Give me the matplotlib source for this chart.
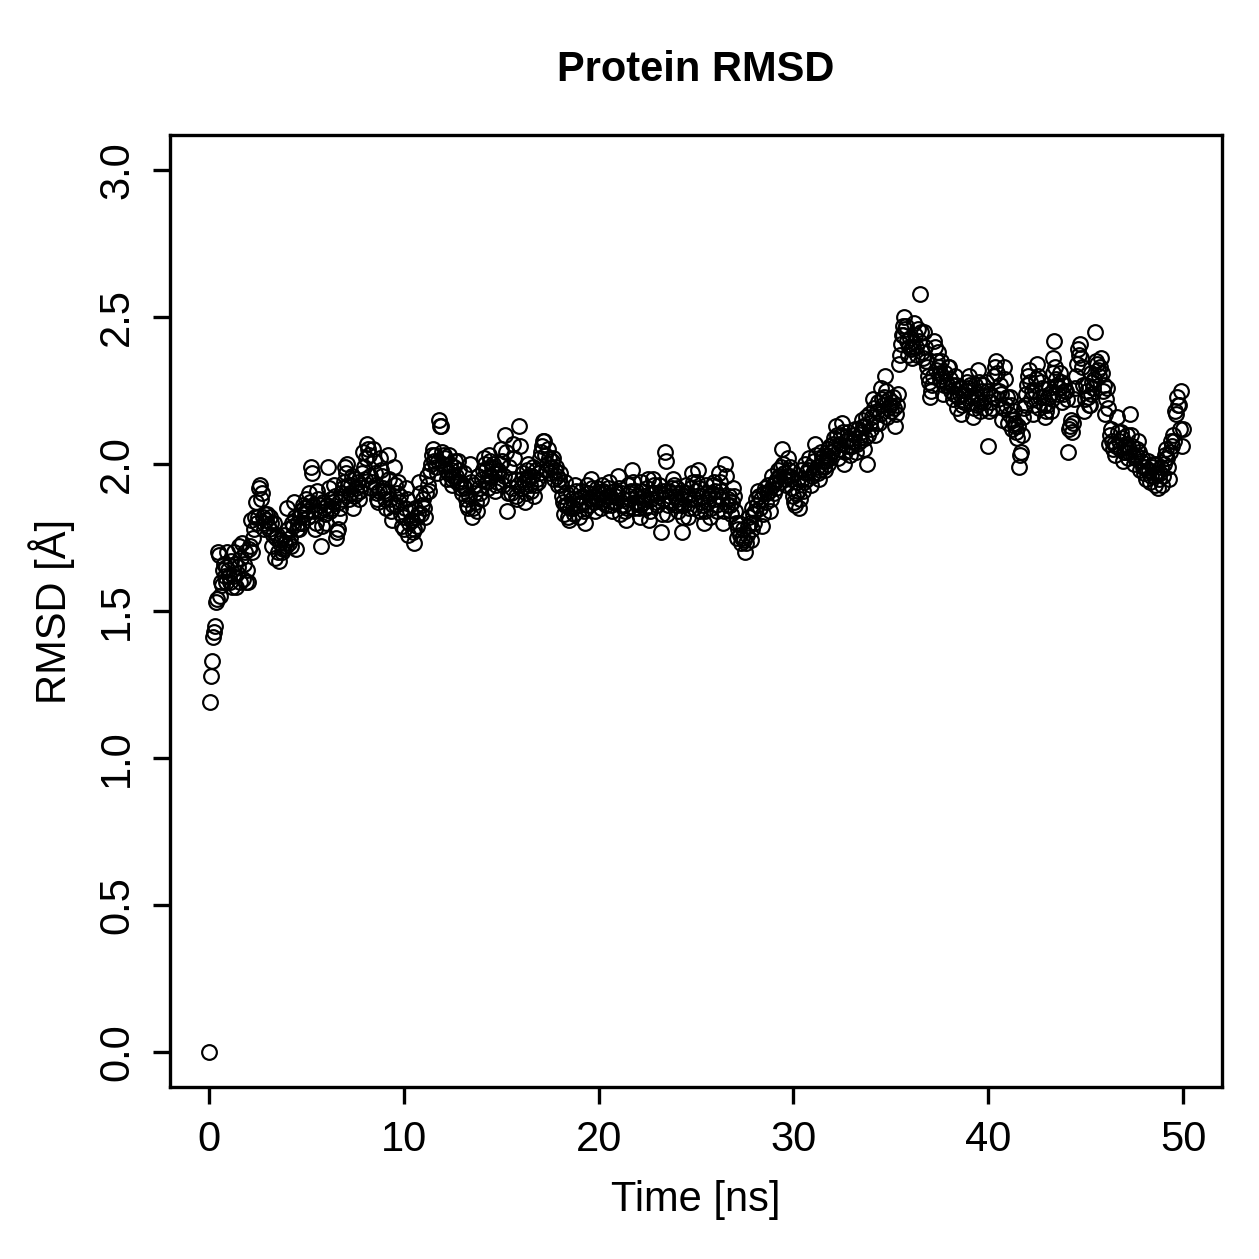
import numpy as np
import matplotlib
matplotlib.use("Agg")
import matplotlib.pyplot as plt

plt.rcParams['font.family'] = ['Liberation Sans', 'DejaVu Sans']

# RMSD values (Å), one frame every 0.05 ns, one row per ns
rmsd_rows = [
    [0.00, 1.19, 1.28, 1.33, 1.41, 1.43, 1.45, 1.53, 1.54, 1.70, 1.69, 1.55, 1.60, 1.59, 1.64, 1.66, 1.62, 1.60, 1.65, 1.70],
    [1.64, 1.62, 1.60, 1.67, 1.58, 1.62, 1.70, 1.66, 1.58, 1.63, 1.65, 1.72, 1.60, 1.68, 1.73, 1.61, 1.66, 1.70, 1.60, 1.64],
    [1.60, 1.71, 1.72, 1.81, 1.70, 1.75, 1.78, 1.82, 1.87, 1.80, 1.82, 1.92, 1.93, 1.88, 1.90, 1.82, 1.80, 1.78, 1.83, 1.81],
    [1.83, 1.79, 1.78, 1.82, 1.80, 1.72, 1.76, 1.80, 1.68, 1.75, 1.76, 1.70, 1.67, 1.73, 1.74, 1.70, 1.71, 1.76, 1.73, 1.72],
    [1.85, 1.78, 1.73, 1.75, 1.72, 1.80, 1.79, 1.87, 1.82, 1.71, 1.78, 1.80, 1.78, 1.82, 1.84, 1.80, 1.80, 1.86, 1.85, 1.83],
    [1.88, 1.84, 1.82, 1.90, 1.87, 1.99, 1.97, 1.86, 1.84, 1.78, 1.80, 1.91, 1.88, 1.84, 1.86, 1.72, 1.79, 1.87, 1.85, 1.83],
    [1.80, 1.86, 1.99, 1.92, 1.84, 1.88, 1.85, 1.87, 1.93, 1.89, 1.75, 1.77, 1.78, 1.82, 1.87, 1.85, 1.90, 1.88, 1.92, 1.94],
    [1.99, 1.97, 2.00, 1.93, 1.88, 1.90, 1.93, 1.96, 1.85, 1.89, 1.95, 1.92, 1.90, 1.94, 1.88, 1.91, 1.93, 1.97, 2.04, 1.99],
    [1.95, 2.02, 2.07, 2.05, 2.03, 1.96, 1.92, 1.94, 2.05, 2.01, 1.97, 1.93, 1.90, 1.88, 1.87, 1.91, 2.02, 1.98, 1.96, 1.92],
    [1.91, 1.88, 1.85, 1.90, 2.03, 1.95, 1.88, 1.84, 1.81, 1.86, 1.99, 1.93, 1.86, 1.90, 1.94, 1.87, 1.89, 1.83, 1.79, 1.82],
    [1.78, 1.85, 1.92, 1.88, 1.76, 1.80, 1.84, 1.81, 1.81, 1.77, 1.73, 1.78, 1.85, 1.82, 1.79, 1.83, 1.94, 1.90, 1.83, 1.86],
    [1.88, 1.85, 1.82, 1.90, 1.96, 1.93, 1.91, 1.98, 2.00, 2.03, 2.05, 2.01, 2.03, 1.99, 1.97, 2.01, 2.15, 2.13, 2.13, 2.04],
    [2.00, 2.03, 2.02, 1.98, 1.95, 1.97, 2.03, 2.00, 1.98, 1.95, 1.93, 1.96, 1.99, 2.01, 1.96, 1.94, 2.01, 1.98, 1.94, 1.92],
    [1.90, 1.93, 1.97, 1.92, 1.88, 1.86, 1.85, 1.89, 2.00, 1.94, 1.82, 1.85, 1.93, 1.90, 1.87, 1.84, 1.96, 1.92, 1.90, 1.88],
    [1.95, 1.98, 2.02, 2.00, 1.98, 1.94, 1.92, 1.96, 2.03, 2.01, 1.96, 1.99, 2.00, 1.97, 1.91, 1.93, 1.94, 1.98, 1.97, 2.00],
    [2.05, 2.01, 1.93, 1.96, 2.10, 2.04, 1.84, 1.90, 1.99, 1.95, 1.90, 1.92, 2.07, 2.02, 1.95, 1.89, 1.88, 1.93, 2.13, 2.06],
    [1.92, 1.95, 1.97, 1.94, 1.87, 1.90, 1.95, 1.98, 2.00, 1.96, 1.93, 1.91, 1.96, 1.99, 1.89, 1.93, 1.98, 1.95, 1.94, 1.97],
    [2.02, 2.04, 2.06, 2.08, 2.08, 2.03, 1.98, 2.00, 2.05, 2.02, 1.97, 1.99, 2.01, 2.02, 1.95, 1.98, 1.99, 1.96, 1.93, 1.95],
    [1.97, 1.93, 1.89, 1.87, 1.83, 1.86, 1.94, 1.90, 1.86, 1.82, 1.81, 1.85, 1.90, 1.88, 1.85, 1.83, 1.93, 1.91, 1.88, 1.86],
    [1.82, 1.86, 1.91, 1.89, 1.87, 1.84, 1.80, 1.85, 1.93, 1.90, 1.86, 1.88, 1.95, 1.92, 1.89, 1.87, 1.84, 1.88, 1.92, 1.90],
    [1.88, 1.90, 1.85, 1.87, 1.93, 1.91, 1.90, 1.88, 1.86, 1.89, 1.92, 1.94, 1.89, 1.86, 1.84, 1.87, 1.91, 1.89, 1.87, 1.90],
    [1.96, 1.92, 1.83, 1.86, 1.90, 1.88, 1.86, 1.84, 1.81, 1.85, 1.93, 1.90, 1.88, 1.91, 1.98, 1.94, 1.85, 1.87, 1.91, 1.89],
    [1.87, 1.85, 1.82, 1.86, 1.94, 1.91, 1.89, 1.87, 1.85, 1.88, 1.92, 1.95, 1.81, 1.84, 1.88, 1.90, 1.95, 1.93, 1.90, 1.87],
    [1.86, 1.89, 1.93, 1.90, 1.77, 1.83, 1.88, 1.91, 2.04, 2.01, 1.83, 1.86, 1.91, 1.89, 1.87, 1.92, 1.95, 1.93, 1.89, 1.86],
    [1.92, 1.88, 1.84, 1.87, 1.90, 1.86, 1.77, 1.82, 1.86, 1.89, 1.93, 1.90, 1.82, 1.85, 1.88, 1.92, 1.97, 1.94, 1.85, 1.88],
    [1.91, 1.94, 1.98, 1.92, 1.84, 1.87, 1.89, 1.86, 1.80, 1.84, 1.93, 1.90, 1.87, 1.89, 1.82, 1.85, 1.90, 1.93, 1.94, 1.91],
    [1.88, 1.86, 1.84, 1.89, 1.97, 1.94, 1.91, 1.88, 1.80, 1.84, 2.00, 1.96, 1.86, 1.88, 1.89, 1.86, 1.83, 1.87, 1.92, 1.89],
    [1.84, 1.80, 1.75, 1.78, 1.80, 1.76, 1.73, 1.75, 1.78, 1.74, 1.70, 1.73, 1.76, 1.79, 1.82, 1.80, 1.74, 1.78, 1.85, 1.83],
    [1.80, 1.84, 1.88, 1.86, 1.91, 1.89, 1.85, 1.88, 1.79, 1.83, 1.90, 1.92, 1.87, 1.90, 1.93, 1.91, 1.84, 1.88, 1.96, 1.93],
    [1.90, 1.94, 1.92, 1.95, 1.98, 1.96, 1.94, 1.99, 2.05, 2.00, 1.97, 1.95, 1.93, 1.96, 2.02, 1.98, 1.99, 1.96, 1.95, 1.92],
    [1.89, 1.87, 1.86, 1.90, 1.94, 1.91, 1.85, 1.88, 1.98, 1.95, 1.91, 1.94, 2.00, 1.97, 1.95, 1.98, 2.02, 1.99, 1.93, 1.96],
    [1.97, 2.01, 2.07, 2.03, 1.99, 1.97, 1.95, 1.98, 2.04, 2.02, 2.01, 1.99, 1.98, 2.01, 2.03, 2.05, 2.00, 2.02, 2.06, 2.04],
    [2.04, 2.07, 2.09, 2.06, 2.13, 2.10, 2.02, 2.05, 2.07, 2.10, 2.14, 2.11, 2.00, 2.04, 2.08, 2.06, 2.11, 2.09, 2.03, 2.06],
    [2.06, 2.08, 2.10, 2.12, 2.04, 2.07, 2.12, 2.09, 2.08, 2.11, 2.15, 2.13, 2.05, 2.09, 2.13, 2.16, 2.00, 2.10, 2.17, 2.14],
    [2.12, 2.16, 2.22, 2.19, 2.10, 2.14, 2.18, 2.21, 2.14, 2.17, 2.26, 2.22, 2.20, 2.23, 2.30, 2.25, 2.16, 2.19, 2.22, 2.20],
    [2.18, 2.21, 2.23, 2.19, 2.13, 2.17, 2.20, 2.24, 2.34, 2.37, 2.41, 2.44, 2.44, 2.47, 2.50, 2.46, 2.47, 2.42, 2.37, 2.40],
    [2.43, 2.39, 2.36, 2.40, 2.48, 2.44, 2.40, 2.37, 2.46, 2.42, 2.58, 2.45, 2.38, 2.36, 2.45, 2.40, 2.35, 2.33, 2.30, 2.28],
    [2.23, 2.25, 2.27, 2.30, 2.42, 2.40, 2.32, 2.35, 2.38, 2.33, 2.29, 2.31, 2.35, 2.30, 2.24, 2.27, 2.31, 2.28, 2.27, 2.33],
    [2.33, 2.29, 2.25, 2.27, 2.22, 2.24, 2.30, 2.27, 2.19, 2.23, 2.26, 2.24, 2.17, 2.20, 2.24, 2.21, 2.21, 2.25, 2.28, 2.26],
    [2.30, 2.27, 2.23, 2.21, 2.16, 2.19, 2.27, 2.24, 2.20, 2.22, 2.32, 2.28, 2.18, 2.21, 2.25, 2.27, 2.21, 2.19, 2.28, 2.25],
    [2.06, 2.18, 2.24, 2.21, 2.19, 2.23, 2.30, 2.33, 2.35, 2.31, 2.22, 2.25, 2.27, 2.24, 2.15, 2.19, 2.33, 2.29, 2.20, 2.23],
    [2.14, 2.17, 2.23, 2.20, 2.12, 2.15, 2.18, 2.14, 2.13, 2.11, 2.09, 2.13, 1.99, 2.03, 2.04, 2.10, 2.16, 2.19, 2.20, 2.24],
    [2.27, 2.30, 2.32, 2.28, 2.22, 2.25, 2.17, 2.20, 2.25, 2.29, 2.34, 2.30, 2.19, 2.23, 2.28, 2.26, 2.23, 2.20, 2.16, 2.18],
    [2.20, 2.23, 2.26, 2.24, 2.18, 2.22, 2.36, 2.31, 2.42, 2.33, 2.29, 2.27, 2.24, 2.26, 2.31, 2.28, 2.21, 2.24, 2.27, 2.25],
    [2.25, 2.22, 2.04, 2.12, 2.13, 2.15, 2.11, 2.14, 2.22, 2.26, 2.30, 2.34, 2.39, 2.37, 2.41, 2.36, 2.33, 2.27, 2.18, 2.22],
    [2.27, 2.25, 2.23, 2.20, 2.20, 2.24, 2.31, 2.28, 2.26, 2.29, 2.45, 2.35, 2.34, 2.32, 2.30, 2.33, 2.36, 2.31, 2.25, 2.27],
    [2.17, 2.22, 2.26, 2.19, 2.07, 2.10, 2.12, 2.08, 2.05, 2.07, 2.03, 2.06, 2.16, 2.11, 2.08, 2.05, 2.11, 2.09, 2.01, 2.04],
    [2.04, 2.07, 2.10, 2.06, 2.02, 2.04, 2.17, 2.10, 2.06, 2.03, 2.00, 2.02, 2.03, 2.05, 2.08, 2.04, 1.98, 2.01, 2.02, 1.99],
    [1.97, 1.99, 1.95, 1.98, 2.01, 1.98, 1.94, 1.96, 1.99, 2.00, 1.96, 1.93, 2.00, 1.97, 1.92, 1.95, 1.97, 1.99, 1.93, 1.96],
    [2.00, 2.03, 2.05, 2.02, 2.02, 1.99, 1.95, 2.04, 2.08, 2.06, 2.10, 2.08, 2.18, 2.17, 2.23, 2.20, 2.20, 2.12, 2.25, 2.06],
    [2.12],
]
rmsd = np.concatenate([np.array(r) for r in rmsd_rows])
time_step_ns = 0.05
time_ns = np.arange(len(rmsd)) * time_step_ns

x_ticks = [0, 10, 20, 30, 40, 50]
y_ticks = [0.0, 0.5, 1.0, 1.5, 2.0, 2.5, 3.0]
y_tick_labels = ["0.0", "0.5", "1.0", "1.5", "2.0", "2.5", "3.0"]

fig = plt.figure(figsize=(12.59, 12.59), dpi=100)
ax = fig.add_axes([170/1259, 1 - 1087/1259, (1222-170)/1259, (1087-135)/1259])

ax.plot(time_ns, rmsd, linestyle='none', marker='o', markersize=10.6,
        markerfacecolor='none', markeredgecolor='black', markeredgewidth=1.55)

ax.set_xlim(-2, 52)
ax.set_ylim(-0.12, 3.12)
ax.set_xticks(x_ticks)
ax.set_xticklabels([str(t) for t in x_ticks])
ax.set_yticks(y_ticks)
ax.set_yticklabels(y_tick_labels, rotation=90, va='center')

for s in ax.spines.values():
    s.set_linewidth(2.4)
ax.tick_params(axis='both', direction='out', length=12.5, width=2.4,
               labelsize=30, pad=11)

fig.text(696/1259, 1 - 70/1259, "Protein RMSD", ha='center', va='center',
         fontsize=30, fontweight='bold')
fig.text(696/1259, 1 - 1200/1259, "Time [ns]", ha='center', va='center',
         fontsize=30)
fig.text(52/1259, 1 - 611/1259, "RMSD [Å]", ha='center', va='center',
         fontsize=30, rotation=90)

fig.savefig("out.png", dpi=100)
